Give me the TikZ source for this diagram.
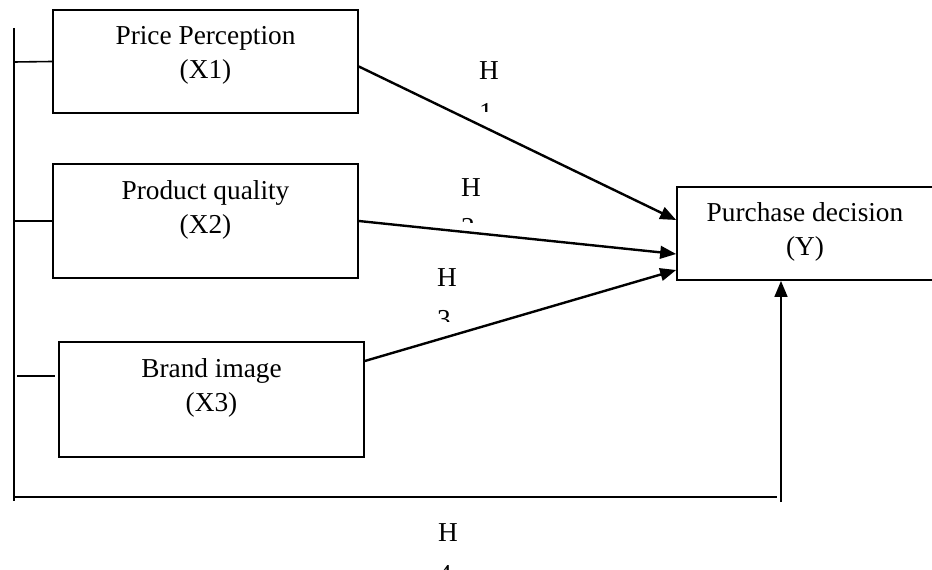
\documentclass[tikz,border=0pt]{standalone}
\usepackage{fontspec}
\setmainfont{Liberation Serif}
\usetikzlibrary{arrows.meta,calc}

\begin{document}
\begin{tikzpicture}[x=0.75pt,y=0.75pt,yscale=-1,xscale=1,
  varbox/.style={draw, line width=1.25pt, inner sep=0pt},
  vartext/.style={inner sep=0.75pt, align=center, font=\fontsize{20.5}{25.5}\selectfont},
  hyparrow/.style={line width=1.8pt, -{Triangle[length=12pt,width=9.5pt]}},
  frameline/.style={line width=1.8pt},
  stubline/.style={line width=1.2pt}]
\useasboundingbox (0,0) rectangle (932,570);

%Shape: Rectangle [X1]
\node [varbox, minimum width=228.75pt, minimum height=77.25pt] (x1) at (205.5,61.5) {};
%Shape: Rectangle [X2]
\node [varbox, minimum width=228.75pt, minimum height=85.5pt] (x2) at (205.5,221) {};
%Shape: Rectangle [X3]
\node [varbox, minimum width=228.75pt, minimum height=86.25pt] (x3) at (211.5,399.5) {};
%Shape: Rectangle [Y]
\node [varbox, minimum width=193.5pt, minimum height=69.75pt] (y) at (806,233.5) {};

% Text Node
\node [vartext] (x1t) at (205.5,55) {Price Perception\\(X1)};
% Text Node
\node [vartext] (x2t) at (205.5,209.5) {Product quality\\(X2)};
% Text Node
\node [vartext] (x3t) at (211.5,387.5) {Brand image\\(X3)};
% Text Node
\node [vartext] (yt) at (805,232) {Purchase decision\\(Y)};

%Straight Lines [frame]
\coordinate (ftop) at (14,28);
\coordinate (fbot) at (14,501);
\coordinate (fleft) at (14,497);
\coordinate (fright) at (777,497);
\coordinate (h4end) at (781,502);
\draw [frameline] (ftop) -- (fbot);
\draw [frameline] (fleft) -- (fright);

%Straight Lines [stubs]
\draw [stubline] (14,62) -- (x1.west);
\draw [stubline] (14,221) -- (x2.west);
\draw [stubline] (17,376) -- ($(x3.west)+(-3,-23.5)$);

%Straight Lines [hypotheses]
\draw [hyparrow] ($(x1.east)+(0,5)$) -- ($(y.west)+(0,-13.5)$);
\draw [hyparrow] (x2.east) -- ($(y.west)+(0,20.5)$);
\draw [hyparrow] ($(x3.east)+(0,-38.5)$) -- ($(y.west)+(0,36.5)$);
\draw [hyparrow] (h4end) -- (h4end |- y.south);

% Text Node
\node [vartext] (h1) at (489,71) {H};
\begin{scope}
\clip (470,90) rectangle (520,112);
\node [vartext, anchor=west] (h1n) at ($(h1.west)+(0,41)$) {1};
\end{scope}
% Text Node
\node [vartext] (h2) at (471,188) {H};
\begin{scope}
\clip (450,205) rectangle (500,223);
\node [vartext, anchor=west] (h2n) at ($(h2.west)+(0,39)$) {2};
\end{scope}
% Text Node
\node [vartext] (h3) at (447,277.5) {H};
\begin{scope}
\clip (425,295) rectangle (475,322);
\node [vartext, anchor=west] (h3n) at ($(h3.west)+(0,42)$) {3};
\end{scope}
% Text Node
\node [vartext] (h4) at (448,533) {H};
\begin{scope}
\clip (425,550) rectangle (475,570);
\node [vartext, anchor=west] (h4n) at ($(h4.west)+(0,42)$) {4};
\end{scope}
\end{tikzpicture}
\end{document}
